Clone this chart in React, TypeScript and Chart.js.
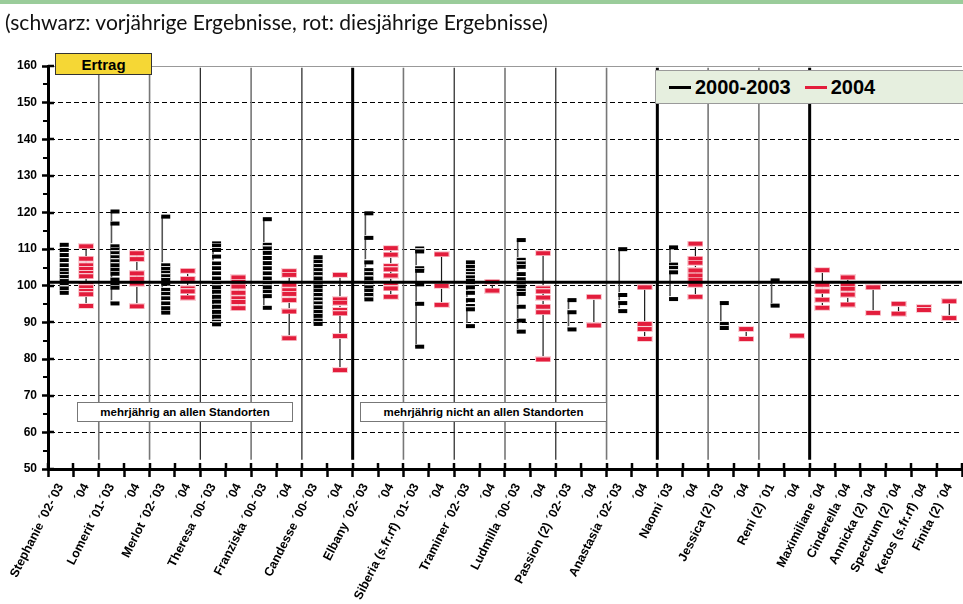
import React, { useEffect, useLayoutEffect, useRef, useState } from 'react';
import { Chart, registerables } from 'chart.js';

Chart.register(...registerables);

// ---------- data ----------
const categories = [
  'Stephanie ´02-´03', '´04', 'Lomerit ´01-´03', '´04', 'Merlot ´02-´03', '´04',
  'Theresa ´00-´03', '´04', 'Franziska ´00-´03', '´04', 'Candesse ´00-´03', '´04',
  'Elbany ´02-´03', '´04', 'Siberia (s.fr.rf) ´01-´03', '´04', 'Traminer ´02-´03', '´04',
  'Ludmilla ´00-´03', '´04', 'Passion (2) ´02-´03', '´04', 'Anastasia ´02-´03', '´04',
  'Naomi ´03', '´04', 'Jessica (2) ´03', '´04', 'Reni (2) ´01', '´04',
  'Maximiliane ´04', 'Cinderella ´04', 'Annicka (2) ´04', 'Spectrum (2) ´04',
  'Ketos (s.fr.rf) ´04', 'Finita (2) ´04',
];

// black: results of previous years (2000-2003)
const prevResults: number[][] = [
  [111.2, 109.8, 108.4, 107.0, 105.6, 104.3, 103.3, 102.4, 101.3, 100.3, 99.3, 98.1],
  [],
  [120.3, 117.0, 110.8, 109.9, 108.9, 107.8, 106.7, 105.6, 104.4, 103.3, 101.7, 100.6, 99.5, 95.2],
  [],
  [118.9, 105.6, 104.6, 103.6, 102.6, 101.6, 100.6, 98.9, 97.8, 96.6, 95.2, 93.9, 92.7],
  [],
  [111.6, 111.0, 109.8, 108.0, 106.1, 104.8, 103.4, 102.0, 100.7, 99.6, 98.4, 97.0, 95.7, 94.3, 92.9, 91.6, 90.2, 89.5],
  [],
  [118.2, 111.2, 110.2, 109.0, 107.6, 106.2, 104.8, 103.4, 102.0, 100.8, 99.6, 98.4, 97.2, 94.0],
  [],
  [107.8, 106.6, 105.4, 104.3, 103.2, 102.0, 100.9, 99.8, 98.7, 97.5, 96.3, 95.2, 94.1, 92.9, 91.8, 90.5, 89.6],
  [],
  [119.8, 113.1, 106.4, 104.3, 103.2, 102.0, 100.9, 99.6, 98.7, 97.5, 96.3],
  [],
  [110.2, 109.4, 104.8, 104.1, 100.4, 95.1, 83.4],
  [],
  [106.4, 105.2, 104.1, 103.2, 102.3, 101.4, 100.5, 99.6, 98.1, 96.1, 94.5, 93.6, 89.0],
  [],
  [112.5, 107.1, 106.1, 105.2, 103.2, 101.8, 100.9, 99.8, 98.7, 97.8, 94.3, 90.5, 87.5],
  [],
  [96.1, 92.8, 88.1],
  [],
  [110.0, 97.5, 95.3, 93.1],
  [],
  [110.5, 105.8, 104.9, 103.7, 96.4],
  [],
  [95.3, 89.6, 88.5],
  [],
  [101.5, 94.6],
  [],
  [], [], [], [], [], [],
];

// red: results of 2004
const currResults: number[][] = [
  [],
  [110.8, 107.4, 105.6, 104.6, 103.5, 102.6, 100.6, 99.6, 98.6, 97.7, 94.5],
  [],
  [108.9, 107.3, 103.4, 101.9, 100.6, 94.4],
  [],
  [104.1, 101.9, 99.3, 98.5, 96.8],
  [],
  [102.3, 101.1, 99.8, 98.1, 96.6, 95.6, 93.9],
  [],
  [104.0, 103.0, 100.3, 98.8, 97.8, 96.1, 93.0, 85.7],
  [],
  [103.0, 96.3, 95.4, 93.4, 92.5, 86.3, 77.0],
  [],
  [110.3, 108.5, 105.4, 104.5, 102.8, 100.2, 99.3, 97.0],
  [],
  [108.6, 100.0, 94.8],
  [],
  [101.1, 98.7],
  [],
  [108.9, 99.3, 98.5, 96.8, 94.3, 92.8, 79.9],
  [],
  [97.0, 89.2],
  [],
  [99.6, 89.6, 88.2, 85.5],
  [],
  [111.5, 107.4, 106.3, 104.2, 102.8, 101.7, 100.3, 97.0],
  [],
  [88.2, 85.5],
  [],
  [86.4],
  [104.3, 100.3, 98.5, 96.2, 94.0],
  [102.3, 100.3, 99.2, 97.6, 94.9],
  [99.6, 92.6],
  [95.1, 92.4],
  [94.2, 93.4],
  [95.8, 91.2],
];

const referenceLevel = 101;
const yMin = 50;
const yMax = 160;
const yStep = 10;

// category boundaries where separator lines are drawn
const greySeparators = [2, 4, 8, 14, 18, 22, 26, 28];
const darkSeparators = [6, 10, 16, 20];
const groupSeparators = [12, 24, 30];

const legendItems = [
  { label: '2000-2003', color: '#000000' },
  { label: '2004', color: '#e31d3c' },
];

const subtitle = '(schwarz: vorjährige Ergebnisse, rot: diesjährige Ergebnisse)';
const groupNotes = ['mehrjährig an allen Standorten', 'mehrjährig nicht an allen Standorten'];

// ---------- helpers ----------
const SEP_TOP = 159.5;
const SEP_BOTTOM = 52.5;
const RED = '#e31d3c';
const ARIAL = '"Liberation Sans", Arial, sans-serif';

type Pt = { x: number; y: number | null };

const markerPoints = (series: number[][]): Pt[] =>
  series.flatMap((vals, i) => vals.map((v) => ({ x: i, y: v })));

const rangePoints = (series: number[][]): Pt[] =>
  series.flatMap((vals, i) =>
    vals.length > 1
      ? [
          { x: i, y: Math.min(...vals) },
          { x: i, y: Math.max(...vals) },
          { x: i, y: null },
        ]
      : []
  );

const separatorPoints = (bounds: number[]): Pt[] =>
  bounds.flatMap((b) => [
    { x: b - 0.5, y: SEP_TOP },
    { x: b - 0.5, y: SEP_BOTTOM },
    { x: b - 0.5, y: null },
  ]);

function blackMarker(): HTMLCanvasElement {
  const c = document.createElement('canvas');
  c.width = 18;
  c.height = 6;
  const g = c.getContext('2d')!;
  g.fillStyle = 'rgba(255,255,255,0.85)';
  g.fillRect(8, 0, 9, 1);
  g.fillStyle = '#000';
  g.fillRect(8, 1, 9, 4);
  return c;
}

function redMarker(): HTMLCanvasElement {
  const c = document.createElement('canvas');
  c.width = 16;
  c.height = 6;
  const g = c.getContext('2d')!;
  g.fillStyle = 'rgba(250,205,212,0.95)';
  g.fillRect(0, 0, 16, 6);
  g.fillStyle = RED;
  g.fillRect(1, 1, 14, 4);
  return c;
}

const extraTicks = {
  id: 'extraTicks',
  afterDraw(chart: any) {
    const { ctx, chartArea, scales } = chart;
    const xv = scales.xv;
    const y = scales.y;
    ctx.save();
    ctx.strokeStyle = '#000';
    ctx.lineWidth = 2.5;
    ctx.beginPath();
    for (let b = 0; b <= categories.length; b++) {
      const px = Math.round(xv.getPixelForValue(b - 0.5));
      ctx.moveTo(px, chartArea.bottom);
      ctx.lineTo(px, chartArea.bottom - 6);
    }
    for (let v = yMin; v <= yMax; v += yStep) {
      const py = Math.round(y.getPixelForValue(v));
      ctx.moveTo(chartArea.left, py);
      ctx.lineTo(chartArea.left + 6, py);
    }
    ctx.stroke();
    ctx.lineWidth = 2;
    ctx.beginPath();
    for (let v = yMin + yStep / 2; v < yMax; v += yStep) {
      const py = Math.round(y.getPixelForValue(v));
      ctx.moveTo(chartArea.left - 5, py);
      ctx.lineTo(chartArea.left, py);
    }
    ctx.stroke();
    ctx.restore();
  },
};

export default function App() {
  const canvasRef = useRef<HTMLCanvasElement>(null);
  const subRef = useRef<HTMLSpanElement>(null);
  const [subScale, setSubScale] = useState(1);

  useLayoutEffect(() => {
    if (subRef.current) {
      const w = subRef.current.getBoundingClientRect().width;
      if (w > 0) setSubScale(543 / w);
    }
  }, []);

  useEffect(() => {
    if (!canvasRef.current) return;
    const lineDs = (data: Pt[], color: string, width: number) => ({
      type: 'scatter' as const,
      data,
      xAxisID: 'xv',
      yAxisID: 'y',
      showLine: true,
      borderColor: color,
      borderWidth: width,
      pointRadius: 0,
      fill: false,
      spanGaps: false,
    });
    const chart = new Chart(canvasRef.current, {
      type: 'scatter',
      data: {
        datasets: [
          lineDs([{ x: -0.5, y: referenceLevel }, { x: categories.length - 0.5, y: referenceLevel }], '#000', 3),
          {
            label: '2004',
            data: markerPoints(currResults),
            xAxisID: 'xv',
            yAxisID: 'y',
            pointStyle: redMarker() as any,
            pointRadius: 4,
          },
          {
            label: '2000-2003',
            data: markerPoints(prevResults),
            xAxisID: 'xv',
            yAxisID: 'y',
            pointStyle: blackMarker() as any,
            pointRadius: 4,
          },
          lineDs(rangePoints(currResults), '#1a1a1a', 1.2),
          lineDs(rangePoints(prevResults), '#555', 1.6),
          lineDs(separatorPoints(groupSeparators), '#000', 3),
          lineDs(separatorPoints(darkSeparators), '#222', 1.2),
          lineDs(separatorPoints(greySeparators), '#777', 1.6),
        ] as any,
      },
      options: {
        responsive: false,
        animation: false,
        events: [],
        layout: { padding: { top: 66, left: 0, right: 0, bottom: 0 } },
        plugins: {
          legend: { display: false },
          tooltip: { enabled: false },
        },
        scales: {
          x: {
            type: 'category',
            labels: categories,
            offset: true,
            position: 'bottom',
            grid: {
              display: true,
              offset: true,
              drawOnChartArea: false,
              drawTicks: true,
              tickLength: 8,
              tickWidth: 2.5,
              tickColor: '#000',
            },
            border: { display: true, color: '#000', width: 3 },
            ticks: {
              autoSkip: false,
              minRotation: 63,
              maxRotation: 63,
              padding: 4,
              color: '#000',
              font: { family: ARIAL, size: 12.5, weight: 'bold' },
            },
            afterFit: (s: any) => {
              s.height = 135;
            },
          },
          xv: {
            type: 'linear',
            display: false,
            min: -0.5,
            max: categories.length - 0.5,
          },
          y: {
            type: 'linear',
            position: 'left',
            min: yMin,
            max: yMax,
            ticks: {
              stepSize: yStep,
              padding: 5,
              color: '#000',
              font: { family: ARIAL, size: 12, weight: 'bold' },
            },
            grid: {
              color: (c: any) =>
                c.tick && c.tick.value === yMin ? 'rgba(0,0,0,0)' : c.tick && c.tick.value === yMax ? '#999' : '#000',
              lineWidth: 1,
              drawTicks: true,
              tickLength: 6,
              tickWidth: 2.5,
              tickColor: '#000',
            },
            border: {
              display: true,
              color: '#000',
              width: 3,
              dash: (c: any) => (c.tick && c.tick.value !== yMax ? [5, 3] : []),
            },
            afterFit: (s: any) => {
              s.width = 48;
            },
          },
        } as any,
      },
      plugins: [extraTicks],
    });
    return () => chart.destroy();
  }, []);

  const noteStyle: React.CSSProperties = {
    position: 'absolute',
    top: 402,
    height: 20,
    boxSizing: 'border-box',
    border: '1.5px solid #777',
    background: '#fff',
    font: `bold 11.5px ${ARIAL}`,
    color: '#000',
    display: 'flex',
    alignItems: 'center',
    justifyContent: 'center',
    whiteSpace: 'nowrap',
  };

  return (
    <div
      style={{
        position: 'absolute',
        left: 0,
        top: 0,
        width: 963,
        height: 604,
        overflow: 'hidden',
        background: '#fff',
      }}
    >
      <canvas ref={canvasRef} width={967} height={604} style={{ position: 'absolute', left: 0, top: 0 }} />
      <div style={{ position: 'absolute', left: 0, top: 0, width: 963, height: 4, background: '#9acc9a' }} />
      <span
        ref={subRef}
        style={{
          position: 'absolute',
          left: 5,
          top: 10,
          font: '21px Lato, "Noto Sans", sans-serif',
          lineHeight: '24px',
          color: '#111',
          whiteSpace: 'nowrap',
          transform: `scaleX(${subScale})`,
          transformOrigin: '0 0',
        }}
      >
        {subtitle}
      </span>
      <div
        style={{
          position: 'absolute',
          left: 55,
          top: 53,
          width: 97,
          height: 22,
          boxSizing: 'border-box',
          border: '1px solid #333',
          background: '#f5d735',
          font: `bold 15px ${ARIAL}`,
          display: 'flex',
          alignItems: 'center',
          justifyContent: 'center',
        }}
      >
        Ertrag
      </div>
      <div
        style={{
          position: 'absolute',
          left: 655,
          top: 70,
          width: 330,
          height: 34,
          boxSizing: 'border-box',
          border: '1px solid #9a9a9a',
          background: '#e6efdf',
          font: `bold 20px ${ARIAL}`,
          display: 'flex',
          alignItems: 'center',
          paddingLeft: 13,
          whiteSpace: 'nowrap',
        }}
      >
        {legendItems.map((it, i) => (
          <span key={it.label} style={{ display: 'flex', alignItems: 'center', marginLeft: i === 0 ? 0 : 14 }}>
            <span style={{ display: 'inline-block', width: 22, height: 3, background: it.color, marginRight: 4 }} />
            {it.label}
          </span>
        ))}
      </div>
      <div style={{ ...noteStyle, left: 77, width: 216 }}>{groupNotes[0]}</div>
      <div style={{ ...noteStyle, left: 360, width: 247 }}>{groupNotes[1]}</div>
    </div>
  );
}
